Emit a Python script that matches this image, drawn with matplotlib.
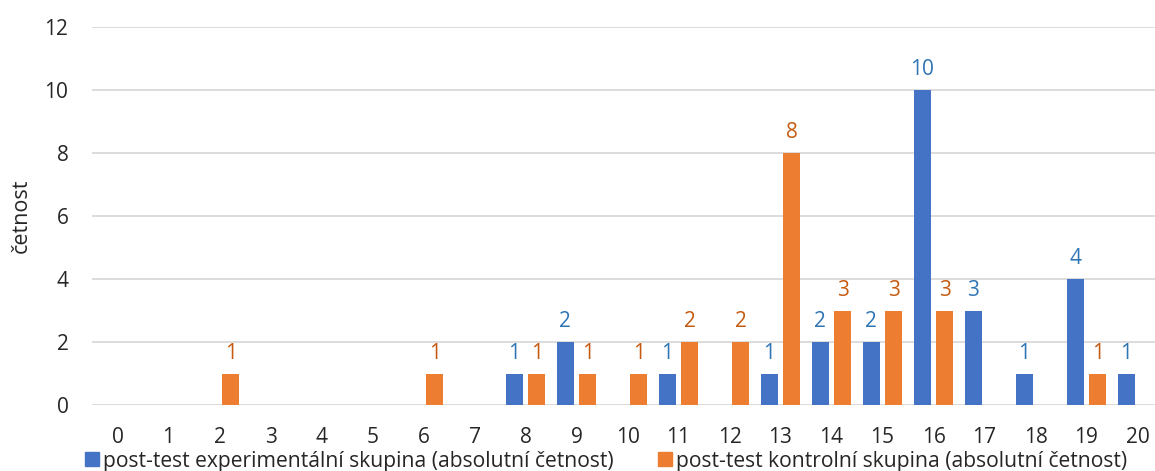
import numpy as np
import matplotlib
matplotlib.use('Agg')
import matplotlib.pyplot as plt
from matplotlib.patches import Patch

plt.rcParams['font.family'] = ['Open Sans', 'DejaVu Sans']

# body skóre 0..20 a četnosti obou skupin
scores = list(range(21))
experimental = [0, 0, 0, 0, 0, 0, 0, 0, 1, 2, 0, 1, 0, 1, 2, 2, 10, 3, 1, 4, 1]
control = [0, 0, 1, 0, 0, 0, 1, 0, 1, 1, 1, 2, 2, 8, 3, 3, 3, 0, 0, 1, 0]
series_names = ['post-test experimentální skupina (absolutní četnost)',
                'post-test kontrolní skupina (absolutní četnost)']

BLUE = '#4472C4'
ORANGE = '#ED7D31'
BLUE_TXT = '#2E75B6'
ORANGE_TXT = '#C55A11'
TEXT = '#262626'
FS = 15

fig = plt.figure(figsize=(11.55, 4.71), dpi=100)
ax = fig.add_axes([92 / 1155, 66 / 471, 1071 / 1155, 378 / 471])

x = np.arange(len(scores))
w = 0.345
gap = 0.09
off = (w + gap) / 2

b1 = ax.bar(x - off, experimental, width=w, color=BLUE, zorder=3)
b2 = ax.bar(x + off, control, width=w, color=ORANGE, zorder=3)

# popisky hodnot jen u nenulových sloupců
for bars, vals, col in [(b1, experimental, BLUE_TXT), (b2, control, ORANGE_TXT)]:
    for rect, v in zip(bars, vals):
        if v > 0:
            ax.annotate(str(v), (rect.get_x() + rect.get_width() / 2, v),
                        xytext=(0, 7), textcoords='offset points',
                        ha='center', va='bottom', fontsize=FS, color=col)

ax.set_xlim(-0.5, len(scores) - 0.5)
ax.set_ylim(0, 12)
ax.set_yticks(range(0, 13, 2))
ax.set_xticks(x)
ax.set_xticklabels([str(s) for s in scores])
ax.tick_params(axis='both', length=0, labelsize=FS, colors=TEXT)
ax.tick_params(axis='y', pad=17)
ax.tick_params(axis='x', pad=16)
ax.grid(axis='y', color='#D9D9D9', linewidth=1.3, zorder=0)
ax.set_axisbelow(True)
for s in ax.spines.values():
    s.set_visible(False)

ax.set_ylabel('četnost', fontsize=15.5, color=TEXT, labelpad=9)

handles = [Patch(color=BLUE), Patch(color=ORANGE)]
fig.legend(handles, series_names, loc='lower left', ncol=2,
           bbox_to_anchor=(66 / 1155, -0.042), frameon=False,
           fontsize=15.2, handlelength=0.65, handleheight=0.65,
           handletextpad=0.2, columnspacing=2.1, labelcolor=TEXT)

fig.savefig('out.png', dpi=100)
